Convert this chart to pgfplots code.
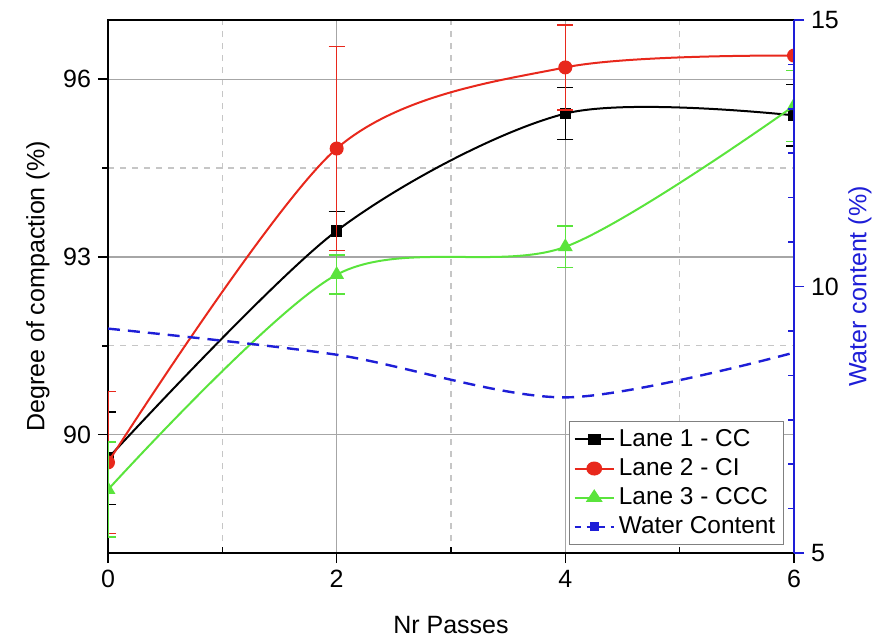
\documentclass[border=0pt]{standalone}
\usepackage{pgfplots}
\pgfplotsset{compat=1.18}
\usepackage{fontspec}
\setmainfont{Liberation Sans}
\definecolor{cred}{RGB}{232,40,28}
\definecolor{cgreen}{RGB}{90,228,60}
\definecolor{cblue}{RGB}{30,30,215}
\begin{document}
\begin{tikzpicture}
\path[use as bounding box] (-54pt,-43pt) rectangle (384pt,276.5pt);
\begin{axis}[
  at={(0,0)}, anchor=south west,
  scale only axis, width=343pt, height=266.5pt,
  xmin=0, xmax=6, ymin=88, ymax=97,
  xtick={0,2,4,6}, ytick={90,93,96},
  minor x tick num=1, minor y tick num=1,
  tick pos=left, tick align=outside,
  major tick length=5pt, minor tick length=3pt,
  minor x tick style={yshift=3pt},
  grid=both,
  major grid style={gray!70, line width=0.6pt},
  minor grid style={gray!45, dashed, line width=0.6pt},
  axis line style={line width=0.8pt},
  tick style={black, line width=0.8pt},
  /pgf/number format/assume math mode=true,
  ticklabel style={font=\fontsize{12.5}{15}\selectfont},
  label style={font=\fontsize{12.5}{15}\selectfont},
  xlabel={Nr Passes},
  ylabel={Degree of compaction (\%)},
  xlabel style={at={(axis description cs:0.5,0)}, anchor=center, yshift=-36pt},
  ylabel style={at={(axis description cs:-0.102,0.5)}, anchor=center},
  clip marker paths=true,
  legend style={at={(rel axis cs:0.985,0.015)}, anchor=south east, draw=gray,
    font=\fontsize{12.2}{14}\selectfont, row sep=0.5pt, inner sep=2pt,
    cells={anchor=west}},
  legend image post style={xscale=1.15},
  legend cell align=left,
]
\addplot+[black, smooth, line width=1pt, mark=square*, mark size=2.4pt,
  mark options={solid, fill=black},
  error bars/.cd, y dir=both, y explicit,
  error bar style={black, line width=0.8pt}, error mark options={rotate=90, mark size=4pt, line width=0.8pt, black}]
  coordinates {
  (0,89.60) +- (0,0.78)
  (2,93.44) +- (0,0.33)
  (4,95.42) +- (0,0.44)
  (6,95.39) +- (0,0.52)
};
\addlegendentry{Lane 1 - CC}
\addplot+[cred, smooth, line width=1pt, mark=*, mark size=3pt,
  mark options={solid, fill=cred, draw=cred},
  error bars/.cd, y dir=both, y explicit,
  error bar style={cred, line width=0.8pt}, error mark options={rotate=90, mark size=4pt, line width=0.8pt, cred}]
  coordinates {
  (0,89.53) +- (0,1.20)
  (2,94.83) +- (0,1.72)
  (4,96.20) +- (0,0.72)
  (6,96.40) +- (0,0.0)
};
\addlegendentry{Lane 2 - CI}
\addplot+[cgreen, smooth, line width=1pt, mark=triangle*, mark size=3.3pt,
  mark options={solid, fill=cgreen, draw=cgreen},
  error bars/.cd, y dir=both, y explicit,
  error bar style={cgreen, line width=0.8pt}, error mark options={rotate=90, mark size=4pt, line width=0.8pt, cgreen}]
  coordinates {
  (0,89.07) +- (0,0.80)
  (2,92.70) +- (0,0.33)
  (4,93.17) +- (0,0.35)
  (6,95.55) +- (0,0.60)
};
\addlegendentry{Lane 3 - CCC}
\addlegendimage{cblue, dashed, line width=1pt, mark=square*, mark size=1.6pt, mark options={solid}}
\addlegendentry{Water Content}
\end{axis}
\begin{axis}[
  at={(0,0)}, anchor=south west,
  scale only axis, width=343pt, height=266.5pt,
  xmin=0, xmax=6, ymin=5, ymax=15,
  axis x line=none,
  axis y line*=right,
  ytick={5,10,15}, minor y tick num=5,
  tick align=outside,
  major tick length=5pt, minor tick length=3pt,
  minor y tick style={xshift=-3pt},
  y axis line style={cblue, line width=1.2pt},
  tick style={cblue, line width=0.8pt},
  /pgf/number format/assume math mode=true,
  ticklabel style={font=\fontsize{12.5}{15}\selectfont, black},
  ylabel={Water content (\%)},
  ylabel style={font=\fontsize{12.5}{15}\selectfont, text=cblue, at={(axis description cs:1.096,0.5)}, anchor=center},
]
\addplot[cblue, smooth, dashed, line width=1.2pt, dash pattern=on 6pt off 4pt] coordinates {
  (0,9.21) (2,8.72) (4,7.92) (6,8.76)
};
\end{axis}
\end{tikzpicture}
\end{document}
